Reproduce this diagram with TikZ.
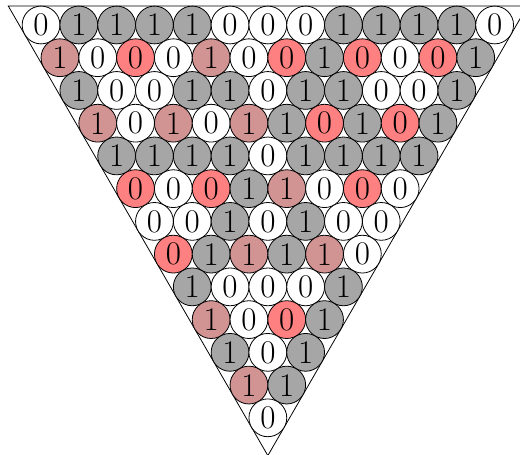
\documentclass[tikz,border=0pt]{standalone}
\definecolor{onefill}{RGB}{166,166,166}
\definecolor{redfill}{RGB}{255,128,128}
\definecolor{pinkfill}{RGB}{210,147,147}
\begin{document}
\begin{tikzpicture}[x=1cm,y=1cm,
  bit/.style={circle,draw,line width=0.6pt,minimum size=1cm,inner sep=0pt,font=\Huge},
  frame/.style={draw,line width=0.6pt}]
\useasboundingbox (-1.086,0.661) rectangle (12.671,-11.35);
\clip (-1.086,0.661) rectangle (12.671,-11.35);
\coordinate (tl) at (-0.866,0.5);
\coordinate (tr) at (12.866,0.5);
\coordinate (bt) at (6,-11.392);
\draw[frame] (tl) -- (tr) -- (bt) -- cycle;
\foreach \row [count=\i] in {
  {0,1,1,1,1,0,0,0,1,1,1,1,0},
  {1,0,0,0,1,0,0,1,0,0,0,1},
  {1,0,0,1,1,0,1,1,0,0,1},
  {1,0,1,0,1,1,0,1,0,1},
  {1,1,1,1,0,1,1,1,1},
  {0,0,0,1,1,0,0,0},
  {0,0,1,0,1,0,0},
  {0,1,1,1,1,0},
  {1,0,0,0,1},
  {1,0,0,1},
  {1,0,1},
  {1,1},
  {0}} {
  \foreach \v [count=\j] in \row {
    \pgfmathtruncatemacro\hl{and(iseven(\i),isodd(\j))}
    \ifnum\hl=1
      \ifnum\v=1 \def\col{pinkfill}\else\def\col{redfill}\fi
    \else
      \ifnum\v=1 \def\col{onefill}\else\def\col{white}\fi
    \fi
    \node[bit,fill=\col] (c-\i-\j) at ({\j-1+(\i-1)/2},{-(\i-1)*0.8660254}) {\v};
  }
}
\end{tikzpicture}
\end{document}
